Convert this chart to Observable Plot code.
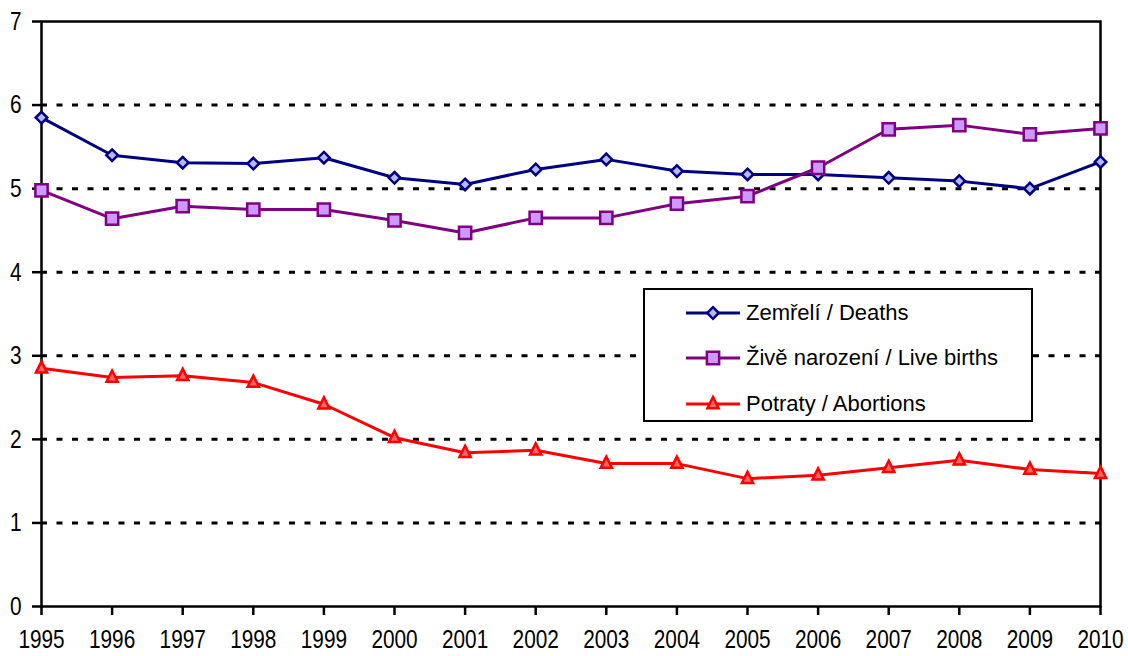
<!DOCTYPE html>
<html>
<head>
<meta charset="utf-8">
<script src="https://cdn.jsdelivr.net/npm/d3@7"></script>
<script src="https://cdn.jsdelivr.net/npm/@observablehq/plot@0.6"></script>
<style>
  html, body { margin: 0; padding: 0; background: #fff; }
  #wrap { position: relative; width: 1128px; height: 656px; }
  #legend {
    position: absolute; left: 643px; top: 288px; width: 386px; height: 130px;
    border: 2px solid #000; background: #fff;
    font-family: "Liberation Sans", Arial, sans-serif; font-size: 22px; color: #000;
  }
  .item { position: absolute; left: 40px; height: 30px; display: flex; align-items: center; }
  .item svg { margin-right: 5px; }
</style>
</head>
<body>
<div id="wrap"></div>
<script>
const years = [1995,1996,1997,1998,1999,2000,2001,2002,2003,2004,2005,2006,2007,2008,2009,2010];
const deaths = [5.85,5.40,5.31,5.30,5.37,5.13,5.05,5.23,5.35,5.21,5.17,5.17,5.13,5.09,5.00,5.32];
const births = [4.98,4.64,4.79,4.75,4.75,4.62,4.47,4.65,4.65,4.82,4.91,5.25,5.71,5.76,5.65,5.72];
const abortions = [2.85,2.74,2.76,2.68,2.42,2.02,1.84,1.87,1.71,1.71,1.53,1.57,1.66,1.75,1.64,1.59];
const seriesNames = ["Zemřelí / Deaths", "Živě narození / Live births", "Potraty / Abortions"];
const yTicks = [0,1,2,3,4,5,6,7];
const gridValues = [1,2,3,4,5,6];

// custom taller triangle symbol
const tallTriangle = {
  draw(context, size) {
    const r = Math.sqrt(size / Math.PI);
    const w = r, h = 2 * r;
    context.moveTo(0, -0.62 * h);
    context.lineTo(w, 0.38 * h);
    context.lineTo(-w, 0.38 * h);
    context.closePath();
  }
};

const styles = [
  {stroke: "#000080", fill: "#b8b8ff", symbol: d3.symbolDiamond2, r: 5.2},
  {stroke: "#800080", fill: "#cc99ff", symbol: d3.symbolSquare2, r: 7.8},
  {stroke: "#ff0000", fill: "#ff6666", symbol: tallTriangle, r: 5.6}
];
const seriesValues = [deaths, births, abortions];
const rows = seriesValues.map((vals, i) => years.map((year, j) => ({year, value: vals[j], series: seriesNames[i]})));

const tickFont = "'Liberation Sans', Arial, sans-serif";
const marks = [
  Plot.ruleY(gridValues, {stroke: "#000", strokeWidth: 3, strokeDasharray: "6,9.5"}),
  Plot.frame({stroke: "#000", strokeWidth: 2.5}),
  Plot.axisY({ticks: yTicks, tickSize: 9, tickPadding: 11, fontSize: 26, tickFormat: d => String(d),
    fontFamily: tickFont, strokeWidth: 2.5, label: null}),
  Plot.axisX({ticks: years, tickSize: 9, tickPadding: 14, fontSize: 26, tickFormat: d => String(d),
    fontFamily: tickFont, strokeWidth: 2.5, label: null}),
];
rows.forEach((data, i) => {
  const s = styles[i];
  marks.push(Plot.line(data, {x: "year", y: "value", stroke: s.stroke, strokeWidth: 3}));
  marks.push(Plot.dot(data, {x: "year", y: "value", symbol: s.symbol, r: s.r, stroke: s.stroke, fill: s.fill, strokeWidth: 2.5}));
});

const chart = Plot.plot({
  width: 1128, height: 656,
  marginLeft: 41, marginRight: 28, marginTop: 21, marginBottom: 50,
  style: {background: "#fff", color: "#000", overflow: "visible"},
  x: {domain: [1995, 2010], axis: null},
  y: {domain: [0, 7], axis: null},
  marks
});
const wrap = document.getElementById("wrap");
wrap.appendChild(chart);

// condense tick labels horizontally (the reference uses a narrow face)
chart.querySelectorAll('g[aria-label$="tick label"] text').forEach(t => {
  const X = +t.getAttribute("x") || 0;
  const tr = t.getAttribute("transform") || "";
  t.setAttribute("transform", `${tr} translate(${X},0) scale(0.8,1) translate(${-X},0)`);
});

// legend
const legend = document.createElement("div");
legend.id = "legend";
const tops = [8, 53, 99];
seriesNames.forEach((name, i) => {
  const s = styles[i];
  const item = document.createElement("div");
  item.className = "item";
  item.style.top = tops[i] + "px";
  const svg = d3.create("svg").attr("width", 56).attr("height", 30);
  svg.append("line").attr("x1", 1).attr("x2", 55).attr("y1", 15).attr("y2", 15)
    .attr("stroke", s.stroke).attr("stroke-width", 3);
  svg.append("path").attr("transform", "translate(28,15)")
    .attr("d", d3.symbol(s.symbol, Math.PI * s.r * s.r)())
    .attr("fill", s.fill).attr("stroke", s.stroke).attr("stroke-width", 2.5);
  item.appendChild(svg.node());
  const t = document.createElement("span");
  t.textContent = name;
  item.appendChild(t);
  legend.appendChild(item);
});
wrap.appendChild(legend);
</script>
</body>
</html>
